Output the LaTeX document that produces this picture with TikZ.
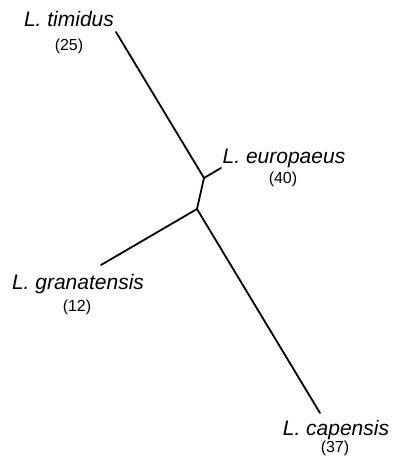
\documentclass[tikz,border=0pt]{standalone}
\usepackage{fontspec}
\setmainfont{Liberation Sans}
\usetikzlibrary{positioning}

\begin{document}
\begin{tikzpicture}[
      x=1pt, y=-1pt,
      branch/.style={draw=black, line width=1.8pt, line cap=round},
      taxon/.style={font=\fontsize{21}{24}\selectfont\itshape, inner sep=0pt, anchor=base},
      count/.style={font=\fontsize{16}{19}\selectfont, inner sep=0pt, anchor=base}
  ]
      \useasboundingbox (0,0) rectangle (393,461);

      % Internal nodes of the tree
      \coordinate (inA) at (204,178);
      \coordinate (inB) at (197,209);

      % Tips
      \coordinate (tipTim) at (116,32);
      \coordinate (tipEur) at (221,168);
      \coordinate (tipGra) at (101,265);
      \coordinate (tipCap) at (320,413);

      % Labels
      \node [taxon] (timidus) at (69,26) {L. timidus};
      \node [count] (nTim) at (69,50) {(25)};
      \node [taxon] (europaeus) at (284,163) {L. europaeus};
      \node [count] (nEur) at (283,183) {(40)};
      \node [taxon] (granatensis) at (78,289) {L. granatensis};
      \node [count] (nGra) at (77,311) {(12)};
      \node [taxon] (capensis) at (336,435) {L. capensis};
      \node [count] (nCap) at (335,452) {(37)};

      % Branches
      \path [branch] (tipTim) -- (inA);
      \path [branch] (tipEur) -- (inA);
      \path [branch] (inA) -- (inB);
      \path [branch] (inB) -- (tipGra);
      \path [branch] (inB) -- (tipCap);
  \end{tikzpicture}
\end{document}
